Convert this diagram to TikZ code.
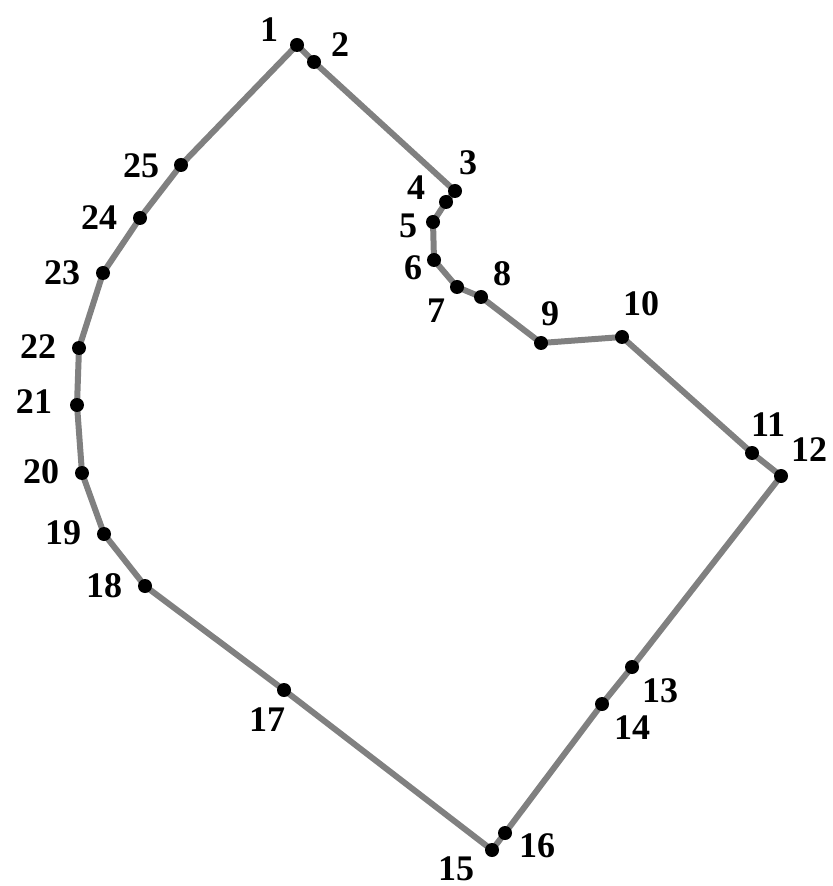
\documentclass[tikz,border=0pt]{standalone}
\usepackage{fontspec}
\setmainfont{Liberation Serif}
\usetikzlibrary{positioning}

\tikzset{
  pt/.style={circle, fill=black, inner sep=0pt, minimum size=7pt},
  num/.style={font=\fontsize{18}{21}\selectfont\bfseries, inner sep=0pt},
  rim/.style={draw=black!50, line width=3pt, line join=round}
}

\begin{document}
\begin{tikzpicture}[x=0.5pt, y=-0.5pt]
    \useasboundingbox (0,0) rectangle (832,886);

    % corner points of the outline, with label positions
    \foreach \n/\x/\y/\lx/\ly in {
        1/297/45/269/30, 2/314/62/340/45, 3/455/191/468/163,
        4/446/202/416/188, 5/433/222/408/226, 6/434/260/413/268,
        7/457/287/436/311, 8/481/297/502/274, 9/541/343/550/314,
        10/622/337/641/304, 11/752/453/768/425, 12/781/476/809/450,
        13/632/667/660/691, 14/602/704/632/728, 15/492/850/456/869,
        16/505/833/537/846, 17/284/690/267/720, 18/145/586/104/586,
        19/104/534/63/533, 20/82/473/41/472, 21/77/405/34/402,
        22/79/348/38/347, 23/103/273/62/273, 24/140/218/99/218,
        25/181/165/141/166} {
        \coordinate (p\n) at (\x,\y);
        \node[num] (l\n) at (\lx,\ly) {\n};
    }

    \draw[rim] (p1) -- (p2) -- (p3) -- (p4) -- (p5) -- (p6) -- (p7) -- (p8)
        -- (p9) -- (p10) -- (p11) -- (p12) -- (p13) -- (p14) -- (p16)
        -- (p15) -- (p17) -- (p18) -- (p19) -- (p20) -- (p21) -- (p22)
        -- (p23) -- (p24) -- (p25) -- cycle;

    \foreach \n in {1,...,25}
        \node[pt] (d\n) at (p\n) {};
\end{tikzpicture}
\end{document}
